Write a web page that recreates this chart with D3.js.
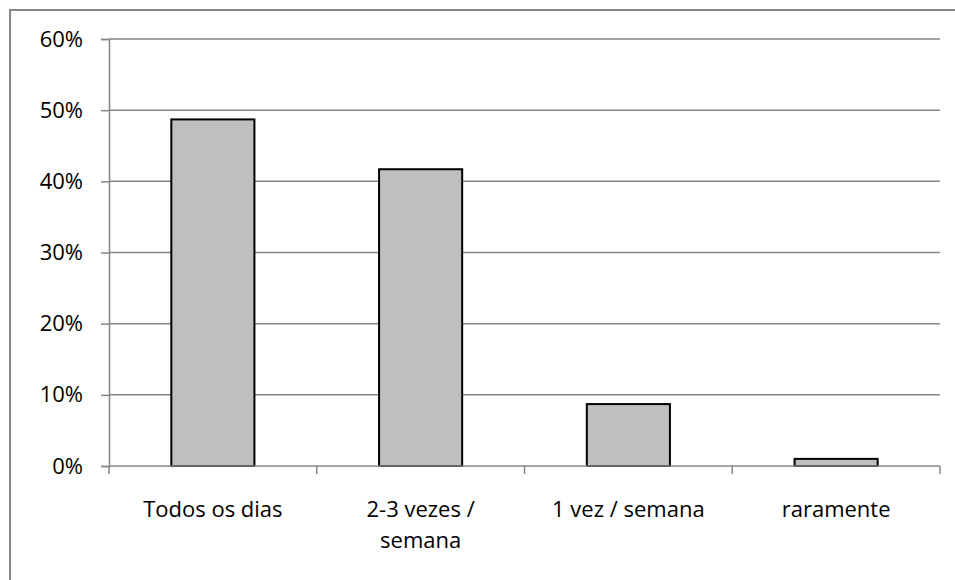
<!DOCTYPE html>
<html>
<head>
<meta charset="utf-8">
<script src="https://cdn.jsdelivr.net/npm/d3@7"></script>
<style>
  html, body { margin: 0; padding: 0; background: #fff; }
  svg { display: block; }
  text { font-family: "Open Sans", sans-serif; fill: #000; }
</style>
</head>
<body>
<script>
const categories = ["Todos os dias", "2-3 vezes / semana", "1 vez / semana", "raramente"];
const categoryLines = [["Todos os dias"], ["2-3 vezes /", "semana"], ["1 vez / semana"], ["raramente"]];
const values = [0.487, 0.417, 0.087, 0.010];
const yTicks = [0, 0.1, 0.2, 0.3, 0.4, 0.5, 0.6];

const W = 955, H = 580;
const margin = { left: 109, right: 15, top: 39, bottom: 114 };

const svg = d3.select("body").append("svg").attr("width", W).attr("height", H);

// outer chart border
svg.append("rect")
  .attr("x", 10).attr("y", 10)
  .attr("width", W + 10).attr("height", H + 10)
  .attr("fill", "none").attr("stroke", "#868686").attr("stroke-width", 2);

const x = d3.scaleBand().domain(categories)
  .range([margin.left, W - margin.right])
  .paddingInner(0.6).paddingOuter(0.3);
const y = d3.scaleLinear().domain([0, 0.6]).range([H - margin.bottom, margin.top]);

// gridlines
svg.append("g").selectAll("line").data(yTicks.filter(d => d > 0)).join("line")
  .attr("x1", margin.left).attr("x2", W - margin.right)
  .attr("y1", d => y(d)).attr("y2", d => y(d))
  .attr("stroke", "#868686").attr("stroke-width", 1.5);

// y axis
const yAxis = d3.axisLeft(y).tickValues(yTicks).tickFormat(d3.format(".0%")).tickSize(8).tickPadding(18);
const gy = svg.append("g").attr("transform", `translate(${margin.left},0)`).call(yAxis);
gy.select(".domain").attr("stroke", "#868686").attr("stroke-width", 1.5);
gy.selectAll(".tick line").attr("stroke", "#868686").attr("stroke-width", 1.5);
gy.selectAll(".tick text").attr("font-size", 22).attr("font-family", "Open Sans, sans-serif").attr("fill", "#000");

// bars
svg.append("g").selectAll("rect").data(values).join("rect")
  .attr("x", (d, i) => x(categories[i]))
  .attr("width", x.bandwidth())
  .attr("y", d => y(d))
  .attr("height", d => y(0) - y(d))
  .attr("fill", "#bfbfbf").attr("stroke", "#000").attr("stroke-width", 2);

// x axis
const boundaries = categories.map(c => x(c) - x.step() * x.paddingInner() / 2).concat([W - margin.right]);
const xg = svg.append("g");
xg.append("line")
  .attr("x1", margin.left).attr("x2", W - margin.right)
  .attr("y1", y(0)).attr("y2", y(0))
  .attr("stroke", "#868686").attr("stroke-width", 1.5);
xg.selectAll("line.tk").data(boundaries).join("line").attr("class", "tk")
  .attr("x1", d => d).attr("x2", d => d)
  .attr("y1", y(0)).attr("y2", y(0) + 8)
  .attr("stroke", "#868686").attr("stroke-width", 1.5);

const labels = svg.append("g").selectAll("text").data(categoryLines).join("text")
  .attr("text-anchor", "middle")
  .attr("font-size", 22)
  .attr("x", (d, i) => x(categories[i]) + x.bandwidth() / 2)
  .attr("y", y(0) + 51);
labels.selectAll("tspan").data(d => d).join("tspan")
  .attr("x", function() { return this.parentNode.getAttribute("x"); })
  .attr("dy", (d, i) => i === 0 ? 0 : 31)
  .text(d => d);
</script>
</body>
</html>
